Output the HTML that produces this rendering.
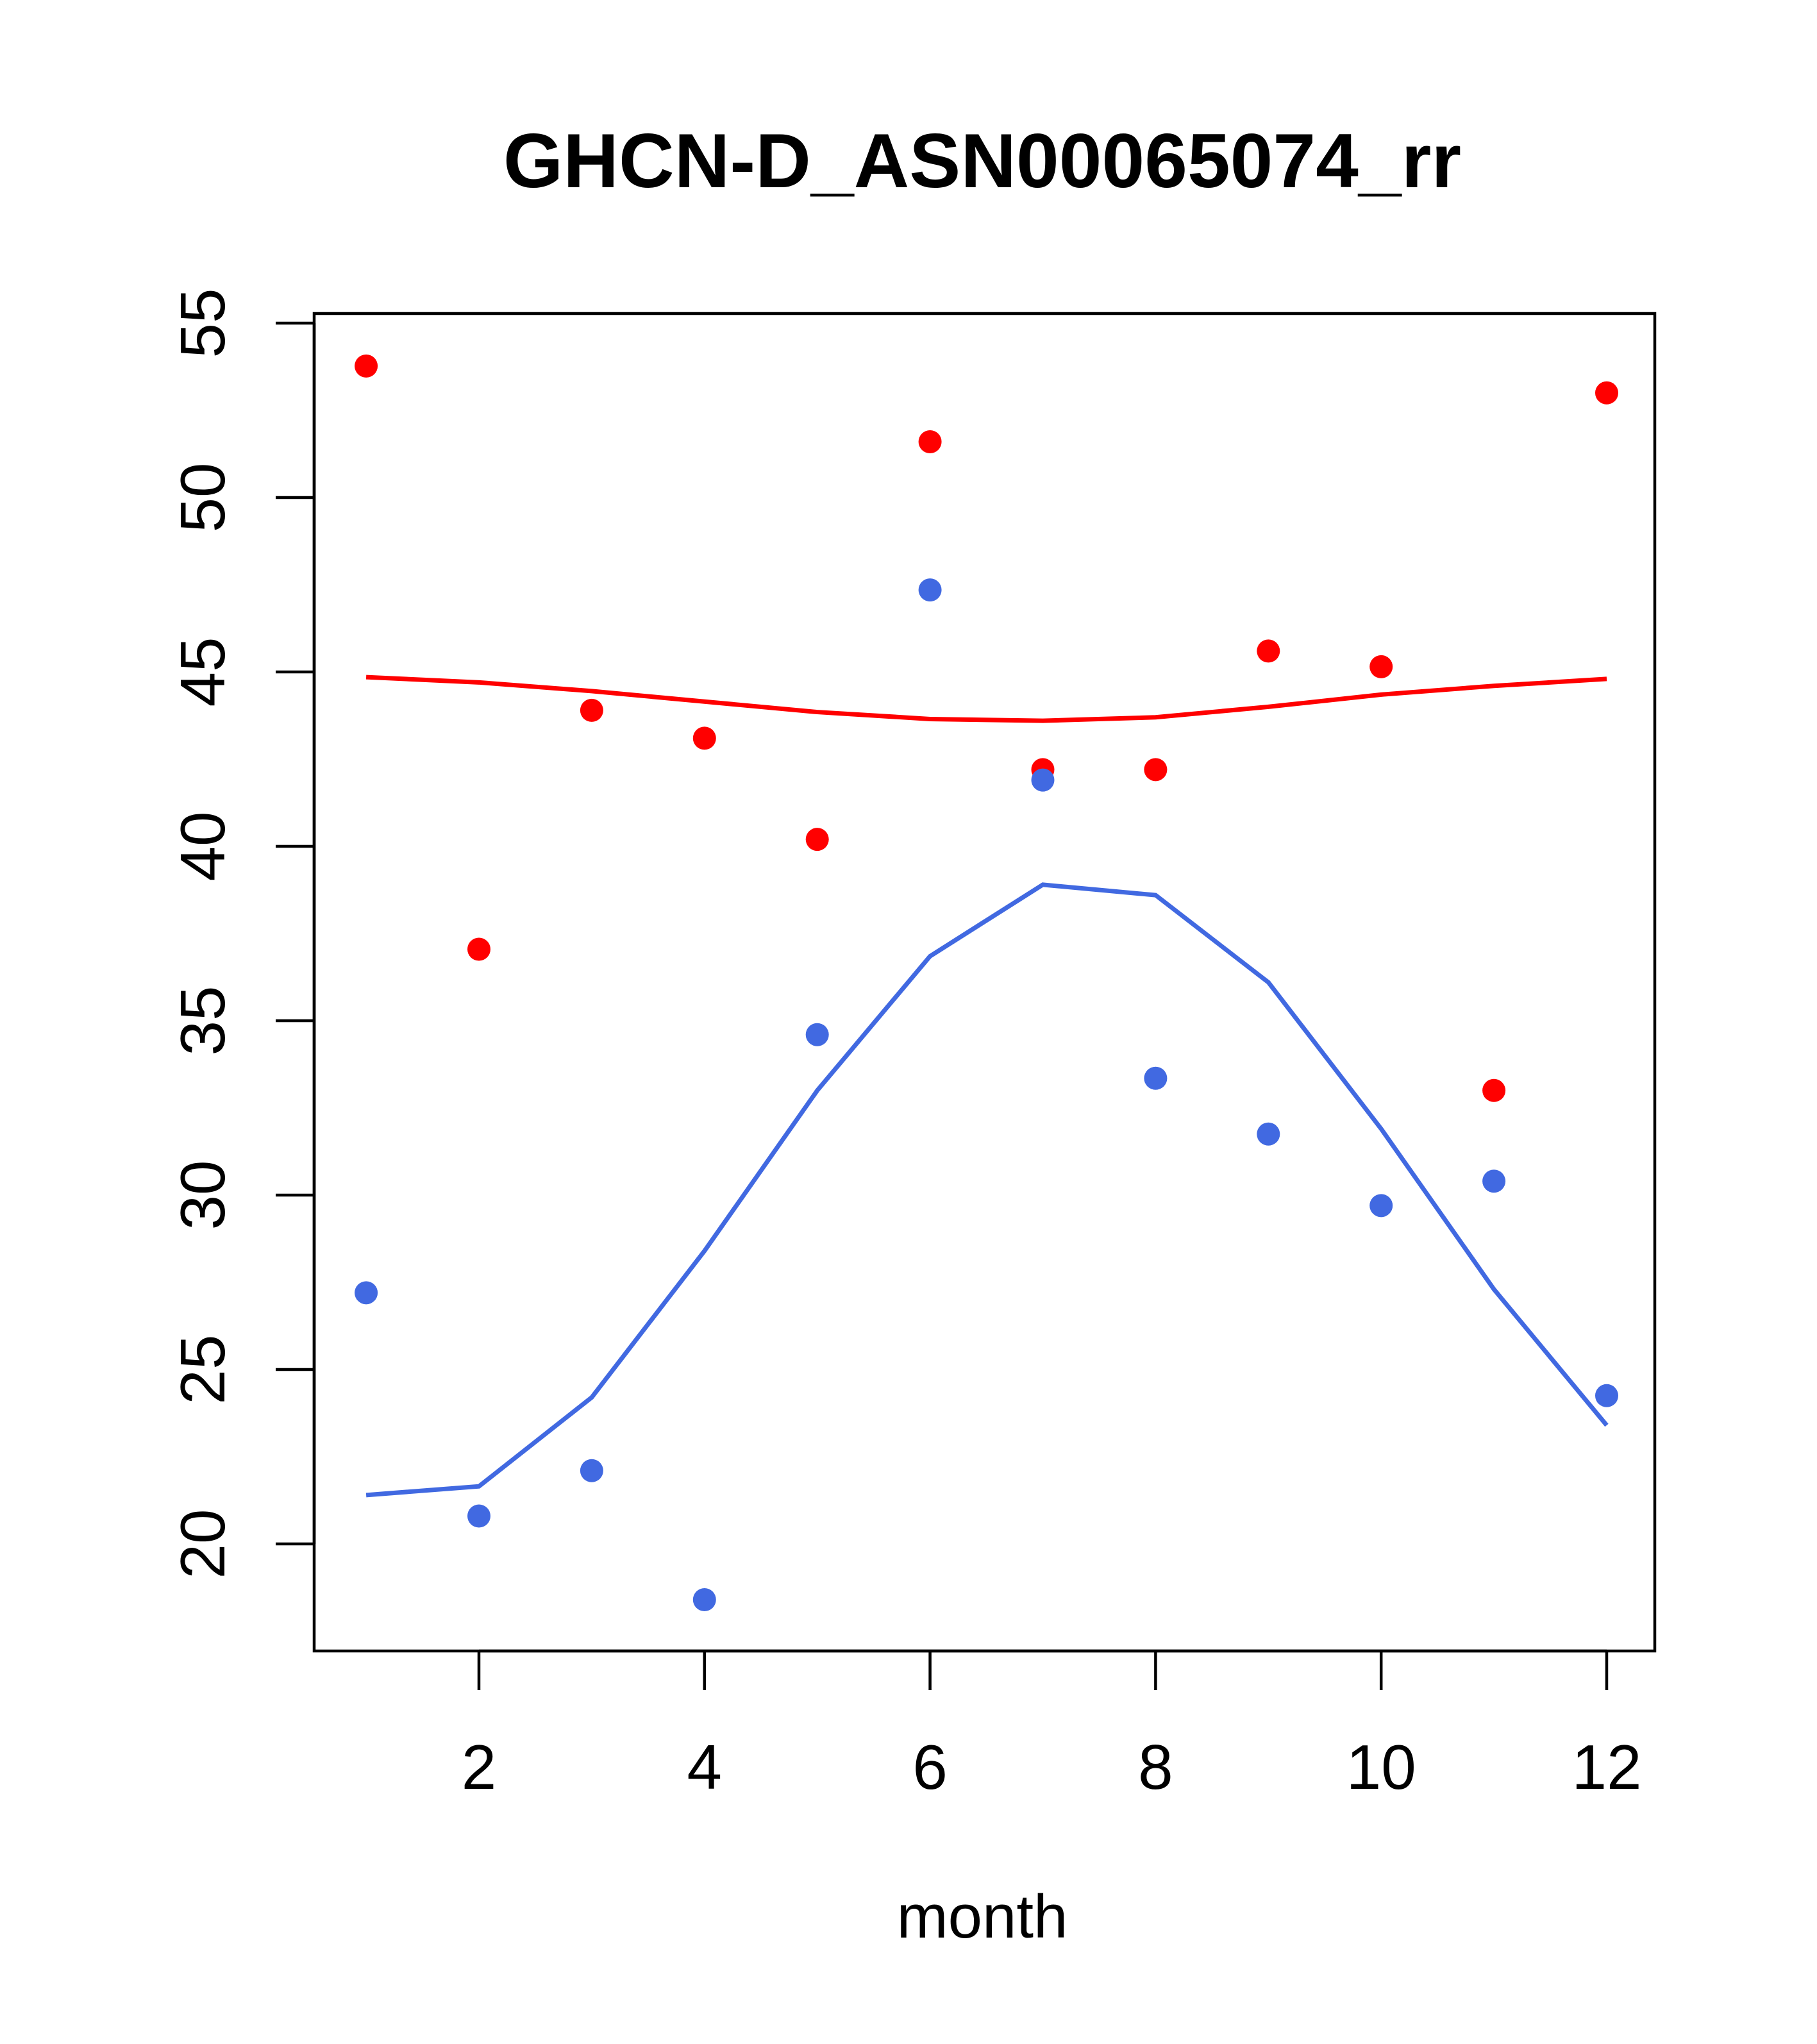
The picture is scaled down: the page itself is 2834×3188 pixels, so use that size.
<!DOCTYPE html>
<html><head><meta charset="utf-8"><style>
html,body{margin:0;padding:0;background:#fff;}
svg{display:block;}
text{font-family:"Liberation Sans",Arial,sans-serif;}
</style></head><body>
<svg id="chart" width="2834" height="3188" viewBox="0 0 2834 3188">
<text x="1532" y="292" font-size="120" font-weight="bold" text-anchor="middle">GHCN-D_ASN00065074_rr</text>
<text x="1532" y="3022" font-size="96" text-anchor="middle">month</text>
<rect x="490" y="489" width="2091" height="2086" fill="none" stroke="#000" stroke-width="4.5"/>
<g id="axes"></g>
<g id="series"></g>
</svg>
<script>
const months=[1,2,3,4,5,6,7,8,9,10,11,12];
const redPoints=[53.77,37.05,43.9,43.1,40.2,51.6,42.2,42.2,45.6,45.15,33.0,53.0];
const bluePoints=[27.2,20.8,22.1,18.4,34.6,47.35,41.9,33.35,31.75,29.7,30.4,24.25];
const redLine=[44.85,44.7,44.45,44.15,43.85,43.65,43.6,43.7,44.0,44.35,44.6,44.8];
const blueLine=[21.4,21.65,24.2,28.4,33.0,36.85,38.9,38.6,36.1,31.9,27.3,23.4];
const xTicks=[2,4,6,8,10,12];
const yTicks=[20,25,30,35,40,45,50,55];

const NS="http://www.w3.org/2000/svg";
function sx(m){return 747+(m-2)*175.9;}
function sy(v){return 2408-(v-20)*54.4;}
const axes=document.getElementById('axes');
const series=document.getElementById('series');
function mk(tag,attrs,parent){const e=document.createElementNS(NS,tag);for(const k in attrs)e.setAttribute(k,attrs[k]);parent.appendChild(e);return e;}

xTicks.forEach(t=>{
  const l=mk('line',{x1:sx(t),x2:sx(t),y1:2575,y2:2636,stroke:'#000','stroke-width':4.5},axes);
  
  
  const tx=mk('text',{x:sx(t),y:2790,'font-size':98,'text-anchor':'middle'},axes);
  tx.textContent=t;
  
  
});
mk('line',{x1:sx(2),x2:sx(12),y1:2575,y2:2575,stroke:'#000','stroke-width':4.5},axes);
yTicks.forEach(t=>{
  const l=mk('line',{x1:430,x2:490,y1:sy(t),y2:sy(t),stroke:'#000','stroke-width':4.5},axes);
  
  
  const tx=mk('text',{x:0,y:0,'font-size':98,'text-anchor':'middle',transform:`translate(350,${sy(t)}) rotate(-90)`},axes);
  tx.textContent=t;
  
  
});
mk('line',{x1:490,x2:490,y1:sy(20),y2:sy(55),stroke:'#000','stroke-width':4.5},axes);

function line(vals,color,name){
  const p=mk('polyline',{points:vals.map((v,i)=>sx(months[i])+','+sy(v)).join(' '),fill:'none',stroke:color,'stroke-width':7},series);
  
  
}
function pts(vals,color,name){
  vals.forEach((v,i)=>{
    const c=mk('circle',{cx:sx(months[i]),cy:sy(v),r:18,fill:color},series);
    
    
  });
}
line(redLine,'#ff0000','red-line');
line(blueLine,'#4169e1','blue-line');
pts(redPoints,'#ff0000','red-point');
pts(bluePoints,'#4169e1','blue-point');
</script>
</body></html>
